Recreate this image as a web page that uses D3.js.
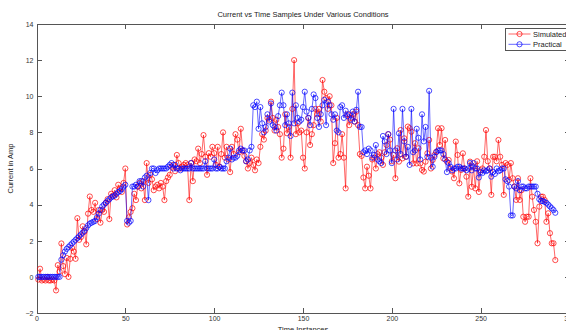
<!DOCTYPE html>
<html lang="en">
<head>
  <meta charset="UTF-8">
  <title>Current vs Time Samples Under Various Conditions</title>
  <style>
  body { margin: 0; background: #fff; }
  svg { display: block; font-family: "Liberation Sans", Arial, sans-serif; }
  .axis path, .axis line { stroke: #555; stroke-width: 1px; shape-rendering: crispEdges; }
  .axis text { fill: #333; font-size: 7px; font-family: "Liberation Sans", Arial, sans-serif; }
  .series path { fill: none; stroke-width: 0.6px; }
  .series circle { fill: none; stroke-width: 0.7px; }
  .label { fill: #222; font-size: 7.5px; }
  </style>
</head>
<body>
  <svg width="566" height="330"></svg>
  <script src="https://d3js.org/d3.v7.min.js"></script>
  <script>

  // time instances run 1..292
  var simulated = [
    -0.15,0.45,-0.2,-0.15,-0.2,0.0,-0.2,-0.2,-0.15,-0.2,
    -0.75,0.65,0.3,1.85,0.6,0.15,1.05,0.0,1.0,1.6,
    1.4,1.0,3.25,2.05,2.2,2.8,2.5,1.8,3.5,4.45,
    3.7,3.6,4.1,3.2,3.7,3.0,3.7,3.6,4.1,4.3,
    3.2,4.6,4.5,4.8,4.4,5.1,4.9,4.7,5.2,6.0,
    2.9,3.3,3.6,3.8,4.6,4.25,5.0,5.2,4.9,5.3,
    4.25,6.3,5.2,5.65,5.4,4.8,5.0,5.1,4.9,5.2,
    5.0,4.25,5.3,5.5,5.65,6.1,6.2,5.85,6.75,6.3,
    6.0,6.1,6.2,6.3,6.2,4.25,6.3,5.3,6.5,6.4,
    7.1,6.3,6.8,7.85,6.65,5.65,6.85,6.65,7.2,6.85,
    6.2,7.2,6.1,6.8,8.0,6.6,7.2,6.5,5.8,7.2,
    6.8,7.9,7.6,6.9,8.2,7.0,6.7,6.4,6.0,6.3,
    6.6,6.2,5.9,6.5,6.3,7.2,7.9,7.6,8.1,8.8,
    8.7,9.7,8.8,8.1,8.7,8.3,7.9,6.6,7.1,9.0,
    7.95,8.3,6.6,9.3,12.0,7.9,8.5,8.0,8.1,6.6,
    6.0,8.0,8.8,7.3,7.9,8.4,9.3,9.0,9.3,8.6,
    10.9,10.25,9.9,9.3,10.0,9.5,6.3,7.4,8.8,6.6,
    6.8,7.9,6.6,4.9,9.0,8.4,8.8,9.0,8.6,9.15,
    8.4,6.8,6.7,5.5,4.9,6.1,5.6,4.9,6.5,6.6,
    6.0,6.8,6.9,6.6,6.2,6.9,7.3,7.9,7.6,6.4,
    6.75,5.46,7.12,6.38,8.13,6.56,7.67,6.65,8.32,8.23,
    8.04,6.28,7.4,6.28,7.12,6.28,5.92,5.83,6.38,6.84,
    7.58,6.0,6.47,6.75,6.93,8.23,7.3,8.23,6.56,7.58,
    6.38,6.47,6.0,5.83,5.46,7.49,6.75,5.18,5.92,6.84,
    6.0,5.55,4.44,6.38,4.99,6.1,4.9,6.4,4.7,5.9,
    6.0,6.65,8.13,6.4,6.0,4.54,6.65,6.65,6.4,7.58,
    6.65,6.2,4.54,6.3,6.2,5.37,6.3,5.46,5.0,4.26,
    5.46,4.26,4.8,3.33,3.05,3.33,3.33,5.46,4.44,3.7,
    3.05,1.86,3.89,4.44,4.44,4.26,3.05,3.52,2.42,1.86,
    1.86,0.93
  ];

  var practical = [
    0,0,0,0,0,0,0,0,0,0,
    0,0,0,0.95,1.2,1.4,1.55,1.65,1.75,1.85,
    1.95,2.05,2.15,2.25,2.35,2.45,2.55,2.7,2.85,2.95,
    3.0,3.05,3.1,3.3,3.5,3.7,3.9,4.0,4.1,4.2,
    4.3,4.4,4.45,4.5,4.6,4.7,4.75,4.85,5.0,5.1,
    3.1,3.0,3.1,5.0,5.0,5.1,5.0,5.3,5.3,5.0,
    5.5,5.6,4.25,5.75,6.0,6.0,5.75,5.9,6.0,6.0,
    6.0,6.0,6.0,6.1,6.2,6.3,6.0,6.2,6.0,6.0,
    5.9,6.0,6.0,6.0,6.0,6.0,6.3,6.0,6.0,6.0,
    6.0,6.0,6.0,6.0,6.4,6.0,6.0,6.0,6.0,6.5,
    6.0,6.0,6.1,6.0,6.0,6.0,6.4,6.6,7.1,6.5,
    6.6,6.6,6.7,7.0,7.1,7.0,7.0,6.4,6.5,7.0,
    7.2,9.5,9.4,9.7,8.2,9.4,8.5,8.0,8.3,9.0,
    8.6,9.6,8.4,8.3,8.1,8.9,9.5,10.2,9.5,8.4,
    9.0,8.5,7.8,10.2,8.5,9.5,8.8,8.6,8.7,9.4,
    10.25,9.15,8.8,8.4,9.3,10.1,9.9,8.8,8.3,9.0,
    9.5,9.8,8.4,9.7,9.5,9.0,8.7,9.0,8.1,8.0,
    9.4,9.5,8.8,9.2,8.9,9.0,8.7,9.15,8.6,9.25,
    10.25,8.3,8.3,6.9,7.0,6.8,7.1,7.0,6.6,6.75,
    7.3,6.5,6.4,6.3,7.8,7.5,6.8,7.9,7.0,6.3,
    9.3,7.0,6.5,7.95,6.8,9.3,7.5,6.65,7.2,6.2,
    9.3,6.9,7.0,8.2,7.7,6.5,9.0,7.5,8.3,6.65,
    10.3,6.6,6.1,6.65,6.9,7.0,7.0,7.0,6.8,6.5,
    5.8,6.3,6.1,5.9,6.0,6.0,6.1,6.1,6.0,6.0,
    6.0,5.9,6.0,6.3,5.9,6.3,6.0,6.0,5.5,5.8,
    5.75,5.9,5.85,5.9,6.0,5.55,5.8,5.7,6.0,5.85,
    5.9,6.0,6.0,5.4,5.3,5.0,3.4,3.4,5.0,4.9,
    5.3,4.8,5.0,5.0,4.9,4.9,5.0,5.0,5.0,5.0,
    5.0,4.6,4.3,4.2,4.2,4.15,4.1,4.0,3.9,3.8,
    3.7,3.55
  ];

  var xTicks = [0, 50, 100, 150, 200, 250, 300];
  var yTicks = [-2, 0, 2, 4, 6, 8, 10, 12, 14];
  var seriesNames = ['Simulated', 'Practical'];
  var seriesColors = ['#ff0000', '#0000ff'];

  var svg = d3.select('svg');

  // the axes box runs a little past the right edge of the window, as in the original
  var x = d3.scaleLinear().domain([0, 300]).range([36.5, 569.5]);
  var y = d3.scaleLinear().domain([-2, 14]).range([313, 24]);

  svg.append('g')
     .attr('class', 'axis')
     .attr('transform', 'translate(0,313)')
     .call(d3.axisBottom(x).tickValues(xTicks).tickSizeInner(-5).tickSizeOuter(0).tickPadding(3));

  svg.append('g')
     .attr('class', 'axis')
     .attr('transform', 'translate(36.5,0)')
     .call(d3.axisLeft(y).tickValues(yTicks).tickSizeInner(-5).tickSizeOuter(0).tickPadding(3));

  svg.append('g')
     .attr('class', 'axis')
     .attr('transform', 'translate(0,24)')
     .call(d3.axisTop(x).tickValues(xTicks).tickSizeInner(-5).tickSizeOuter(0).tickFormat(''));

  svg.append('g')
     .attr('class', 'axis')
     .attr('transform', 'translate(569.5,0)')
     .call(d3.axisRight(y).tickValues(yTicks).tickSizeInner(-5).tickSizeOuter(0).tickFormat(''));

  var line = d3.line()
               .x(function (d, i) { return x(i + 1); })
               .y(function (d) { return y(d); });

  // simulated first so the practical markers sit on top
  [simulated, practical].forEach(function (values, k) {
    var g = svg.append('g')
               .attr('class', 'series')
               .attr('stroke', seriesColors[k]);

    g.append('path').attr('d', line(values));

    g.selectAll('circle')
     .data(values)
     .enter()
     .append('circle')
     .attr('cx', function (d, i) { return x(i + 1); })
     .attr('cy', function (d) { return y(d); })
     .attr('r', 2.6);
  });

  svg.append('text')
     .attr('class', 'label')
     .attr('x', 303)
     .attr('y', 17)
     .attr('text-anchor', 'middle')
     .text('Current vs Time Samples Under Various Conditions');

  svg.append('text')
     .attr('class', 'label')
     .attr('x', 303)
     .attr('y', 332)
     .attr('text-anchor', 'middle')
     .text('Time Instances');

  svg.append('text')
     .attr('class', 'label')
     .attr('transform', 'translate(13,168.5) rotate(-90)')
     .attr('text-anchor', 'middle')
     .text('Current in Amp');

  // legend
  var legend = svg.append('g').attr('transform', 'translate(505.5,28.5)');

  legend.append('rect')
        .attr('width', 70)
        .attr('height', 22)
        .attr('fill', '#fff')
        .attr('stroke', '#555')
        .attr('stroke-width', 1);

  seriesNames.forEach(function (name, k) {
    var row = legend.append('g')
                    .attr('class', 'series')
                    .attr('stroke', seriesColors[k])
                    .attr('transform', 'translate(0,' + (5.5 + k * 10.3) + ')');

    row.append('line').attr('x1', 3).attr('x2', 25).attr('y1', 0).attr('y2', 0)
       .attr('stroke-width', 0.6);
    row.append('circle').attr('cx', 14).attr('cy', 0).attr('r', 2.6);

    legend.append('text')
          .attr('class', 'label')
          .attr('x', 27.5)
          .attr('y', 5.5 + k * 10.3 + 2.6)
          .text(name);
  });
  </script>
</body>
</html>
